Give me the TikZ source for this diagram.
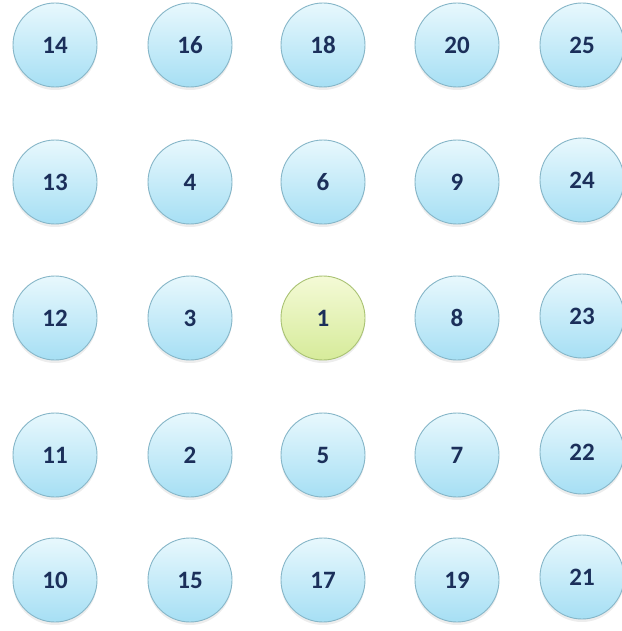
\documentclass[tikz,border=0pt]{standalone}
\usepackage{fontspec}
\setmainfont{Carlito}
\definecolor{bluetop}{HTML}{E8F8FD}
\definecolor{bluebot}{HTML}{A6DFF4}
\definecolor{blueedge}{HTML}{86B6C8}
\definecolor{greentop}{HTML}{F4FAD6}
\definecolor{greenbot}{HTML}{D6EB9A}
\definecolor{greenedge}{HTML}{A9C273}
\definecolor{numcol}{HTML}{1B2F5A}
\tikzset{
  ball/.style={circle, minimum size=84pt, inner sep=0pt, draw=blueedge, line width=0.9pt,
    top color=bluetop, bottom color=bluebot, text=numcol,
    font=\fontsize{25}{27}\selectfont\bfseries},
  greenball/.style={ball, draw=greenedge, top color=greentop, bottom color=greenbot},
  shade/.style={circle, minimum size=84pt, inner sep=0pt, fill=black, fill opacity=0.07, draw=none}
}
\begin{document}
\begin{tikzpicture}[x=1pt,y=-1pt]
\useasboundingbox (0,0) rectangle (621,631);
\fill[white] (0,0) rectangle (621,631);
% shadows
\foreach \x in {55,190,323,457}{
  \foreach \y in {45,182,318,455,580}{
    \node[shade] at (\x,\y+3) {};
  }
}
\foreach \y in {45,180,316,452,577}{
  \node[shade] at (582,\y+3) {};
}
% row 1
\node[ball] (n14) at (55,45) {14};
\node[ball] (n16) at (190,45) {16};
\node[ball] (n18) at (323,45) {18};
\node[ball] (n20) at (457,45) {20};
\node[ball] (n25) at (582,45) {25};
% row 2
\node[ball] (n13) at (55,182) {13};
\node[ball] (n4) at (190,182) {4};
\node[ball] (n6) at (323,182) {6};
\node[ball] (n9) at (457,182) {9};
\node[ball] (n24) at (582,180) {24};
% row 3
\node[ball] (n12) at (55,318) {12};
\node[ball] (n3) at (190,318) {3};
\node[greenball] (n1) at (323,318) {1};
\node[ball] (n8) at (457,318) {8};
\node[ball] (n23) at (582,316) {23};
% row 4
\node[ball] (n11) at (55,455) {11};
\node[ball] (n2) at (190,455) {2};
\node[ball] (n5) at (323,455) {5};
\node[ball] (n7) at (457,455) {7};
\node[ball] (n22) at (582,452) {22};
% row 5
\node[ball] (n10) at (55,580) {10};
\node[ball] (n15) at (190,580) {15};
\node[ball] (n17) at (323,580) {17};
\node[ball] (n19) at (457,580) {19};
\node[ball] (n21) at (582,577) {21};
\end{tikzpicture}
\end{document}
